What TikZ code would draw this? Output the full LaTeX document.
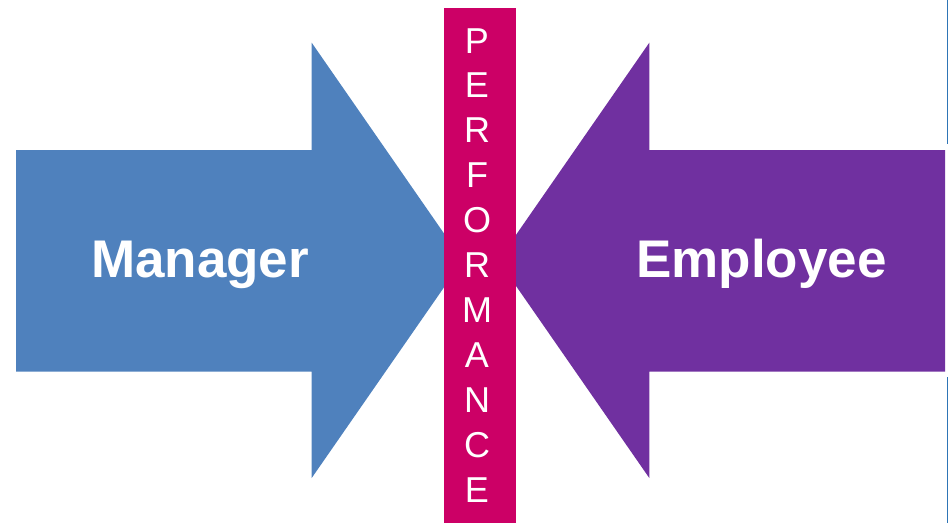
\documentclass[tikz,border=0pt]{standalone}
\usepackage{fontspec}
\setmainfont{Liberation Sans}
\definecolor{mgrblue}{HTML}{4F81BD}
\definecolor{emppurple}{HTML}{7030A0}
\definecolor{perfpink}{HTML}{CC0066}
\definecolor{edgeblue}{HTML}{2E75B6}
\tikzset{
  bigword/.style={text=white, font=\fontsize{53}{53}\selectfont\bfseries, inner sep=0pt, anchor=base},
  perfletter/.style={text=white, font=\fontsize{36}{36}\selectfont, inner sep=0pt, anchor=base},
}
\begin{document}
\begin{tikzpicture}[x=1pt,y=-1pt]
\useasboundingbox (0,0) rectangle (948,523);
% left arrow (Manager)
\fill[mgrblue] (16,150) -- (311.7,150) -- (311.7,42.7) -- (462.7,260.4) -- (311.7,478) -- (311.7,371.7) -- (16,371.7) -- cycle;
% right arrow (Employee)
\fill[emppurple] (945,150) -- (649.3,150) -- (649.3,42.7) -- (498.3,260.4) -- (649.3,478) -- (649.3,371.7) -- (945,371.7) -- cycle;
% thin edge line at right
\draw[edgeblue, line width=1pt] (947.3,0) -- (947.3,144) (947.3,377) -- (947.3,523);
% central bar
\fill[perfpink] (444,8) rectangle (516,523);
\node[bigword] (mgr) at (200,277) {Manager};
\node[bigword] (emp) at (761.5,277) {Employee};
\foreach \ch [count=\i from 0] in {P,E,R,F,O,R,M,A,N,C,E} {
  \node[perfletter] (l\i) at (477,{53+\i*44.9}) {\ch};
}
\end{tikzpicture}
\end{document}
